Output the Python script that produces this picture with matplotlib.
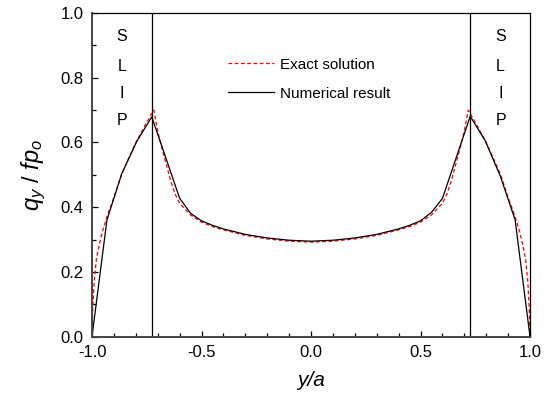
import matplotlib
matplotlib.use("Agg")
import matplotlib.pyplot as plt
from matplotlib.ticker import MultipleLocator, FormatStrFormatter

plt.rcParams['font.family'] = ['Liberation Sans', 'DejaVu Sans']
plt.rcParams['mathtext.fontset'] = 'custom'
plt.rcParams['mathtext.it'] = 'Liberation Sans:italic'
plt.rcParams['mathtext.rm'] = 'Liberation Sans'

# Exact solution (red dashed)
exact_x = [-1.0, -0.997, -0.99, -0.98, -0.965, -0.95, -0.93, -0.90, -0.866, -0.83, -0.80,
           -0.76, -0.735, -0.718, -0.70, -0.68, -0.66, -0.64, -0.62, -0.60, -0.55, -0.50,
           -0.45, -0.40, -0.30, -0.20, -0.10, 0.0, 0.10, 0.20, 0.30, 0.40, 0.45, 0.50,
           0.55, 0.60, 0.62, 0.64, 0.66, 0.68, 0.70, 0.718, 0.735, 0.76, 0.80, 0.83,
           0.866, 0.90, 0.93, 0.95, 0.965, 0.98, 0.99, 0.997, 1.0]
exact_y = [0.0, 0.08, 0.17, 0.24, 0.29, 0.33, 0.375, 0.43, 0.50, 0.555, 0.60,
           0.65, 0.68, 0.70, 0.635, 0.58, 0.53, 0.48, 0.44, 0.412, 0.376, 0.354,
           0.340, 0.330, 0.313, 0.302, 0.295, 0.292, 0.295, 0.302, 0.313, 0.330, 0.340, 0.354,
           0.376, 0.412, 0.44, 0.48, 0.53, 0.58, 0.635, 0.70, 0.68, 0.65, 0.60, 0.555,
           0.50, 0.43, 0.375, 0.33, 0.29, 0.24, 0.17, 0.08, 0.0]

# Numerical result (black solid)
num_x = [-1.0, -0.932, -0.864, -0.795, -0.727, -0.60, -0.55, -0.50, -0.45, -0.40, -0.30,
         -0.20, -0.10, 0.0, 0.10, 0.20, 0.30, 0.40, 0.45, 0.50, 0.55, 0.60,
         0.727, 0.795, 0.864, 0.932, 1.0]
num_y = [0.0, 0.36, 0.504, 0.604, 0.679, 0.428, 0.381, 0.358, 0.344, 0.333, 0.316,
         0.305, 0.298, 0.295, 0.298, 0.305, 0.316, 0.333, 0.344, 0.358, 0.384, 0.427,
         0.681, 0.606, 0.497, 0.361, 0.0]

slip_edges = [-0.727, 0.727]
slip_letters = ["S", "L", "I", "P"]
slip_letter_y = [0.926, 0.835, 0.752, 0.669]
slip_text_x = [-0.864, 0.866]

fig = plt.figure(figsize=(5.49, 4.08), dpi=100)
ax = fig.add_axes([0.1676, 0.1748, 0.7978, 0.7933])

ax.plot(exact_x, exact_y, color='red', linestyle=(0, (3, 2)), linewidth=0.9,
        label='Exact solution')
ax.plot(num_x, num_y, color='black', linewidth=0.9, label='Numerical result')

for xe in slip_edges:
    ax.axvline(xe, color='black', linewidth=0.9)

for xt in slip_text_x:
    for letter, yt in zip(slip_letters, slip_letter_y):
        ax.text(xt, yt, letter, fontsize=11.5, ha='center', va='center')

ax.set_xlim(-1.0, 1.0)
ax.set_ylim(0.0, 1.0)
ax.xaxis.set_major_locator(MultipleLocator(0.5))
ax.xaxis.set_minor_locator(MultipleLocator(0.1))
ax.yaxis.set_major_locator(MultipleLocator(0.2))
ax.yaxis.set_minor_locator(MultipleLocator(0.1))
ax.xaxis.set_major_formatter(FormatStrFormatter('%.1f'))
ax.yaxis.set_major_formatter(FormatStrFormatter('%.1f'))
ax.tick_params(which='both', direction='in', labelsize=12, width=0.9)
ax.tick_params(which='major', length=4.5, pad=6)
ax.tick_params(which='minor', length=3)

for side in ['left', 'bottom']:
    ax.spines[side].set_linewidth(1.4)
    ax.spines[side].set_color('#444444')
for side in ['top', 'right']:
    ax.spines[side].set_linewidth(0.9)

ax.set_xlabel('y/a', fontsize=15, fontstyle='italic', labelpad=8)
ax.set_ylabel(r'$q_{y}$ / $fp_{o}$', fontsize=17, labelpad=9)

ax.legend(loc='upper left', bbox_to_anchor=(0.28, 0.905), frameon=False,
          fontsize=11, handlelength=3.0, handletextpad=0.4, labelspacing=1.0)

fig.savefig('out.png', dpi=100)
